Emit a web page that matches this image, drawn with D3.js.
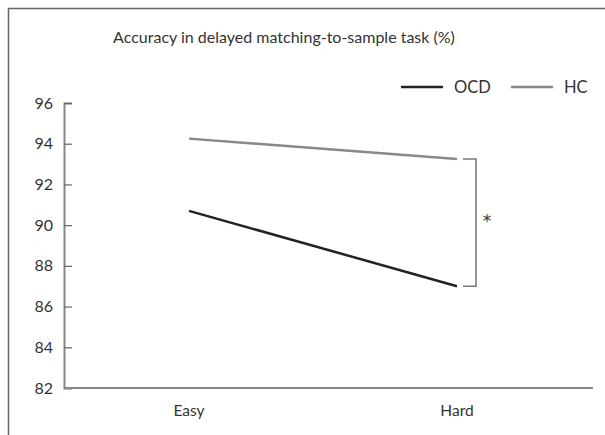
<!DOCTYPE html>
<html>
<head>
<meta charset="utf-8">
<script src="https://cdn.jsdelivr.net/npm/d3@7"></script>
<style>
  body { margin: 0; background: #fff; }
  svg { font-family: "Lato", "Open Sans", sans-serif; }
</style>
</head>
<body>
<svg width="605" height="435"></svg>
<script>
// chart data
const conditions = ["Easy", "Hard"];
const ocdValues = [90.7, 87.0];
const hcValues = [94.25, 93.25];
const yTicks = [82, 84, 86, 88, 90, 92, 94, 96];

const svg = d3.select("svg");

// outer frame: only top and left edges show
svg.append("path")
   .attr("d", "M8.5,440V8.5H610")
   .attr("fill", "none")
   .attr("stroke", "#666")
   .attr("stroke-width", 1.5);

const x = d3.scalePoint().domain(conditions).range([189, 457]);
const y = d3.scaleLinear().domain([82, 96]).range([388, 103]);

// title
svg.append("text")
   .attr("x", 284).attr("y", 43)
   .attr("text-anchor", "middle")
   .attr("font-size", 16)
   .attr("fill", "#333")
   .text("Accuracy in delayed matching-to-sample task (%)");

// y axis with inner ticks
const yAxis = svg.append("g")
   .attr("transform", "translate(64,0)")
   .call(d3.axisRight(y).tickValues(yTicks).tickSize(8).tickFormat(""));
yAxis.select(".domain").attr("stroke", "#888").attr("stroke-width", 2);
yAxis.selectAll(".tick line").attr("stroke", "#666").attr("stroke-width", 1.2);

svg.selectAll(".ylab")
   .data(yTicks)
   .enter()
   .append("text")
   .attr("class", "ylab")
   .attr("x", 53)
   .attr("y", d => y(d))
   .attr("dy", "0.35em")
   .attr("text-anchor", "end")
   .attr("font-size", 16)
   .attr("fill", "#333")
   .text(d => d);

// x axis line
svg.append("line")
   .attr("x1", 64).attr("x2", 593)
   .attr("y1", y(82)).attr("y2", y(82))
   .attr("stroke", "#888").attr("stroke-width", 2);

svg.selectAll(".xlab")
   .data(conditions)
   .enter()
   .append("text")
   .attr("class", "xlab")
   .attr("x", d => x(d))
   .attr("y", 416)
   .attr("text-anchor", "middle")
   .attr("font-size", 15.5)
   .attr("fill", "#333")
   .text(d => d);

// series lines
const line = d3.line()
   .x((d, i) => x(conditions[i]))
   .y(d => y(d));

svg.append("path")
   .attr("d", line(hcValues))
   .attr("fill", "none")
   .attr("stroke", "#888")
   .attr("stroke-width", 2.5);

svg.append("path")
   .attr("d", line(ocdValues))
   .attr("fill", "none")
   .attr("stroke", "#222")
   .attr("stroke-width", 2.5);

// significance bracket between the Hard points
const bx = x("Hard");
const bTop = y(hcValues[1]);
const bBot = y(ocdValues[1]);
svg.append("path")
   .attr("d", `M${bx + 6},${bTop}H${bx + 19}V${bBot}H${bx + 6}`)
   .attr("fill", "none")
   .attr("stroke", "#777")
   .attr("stroke-width", 1.5);

svg.append("text")
   .attr("x", bx + 30)
   .attr("y", (bTop + bBot) / 2 + 4)
   .attr("text-anchor", "middle")
   .attr("font-family", "DejaVu Sans")
   .attr("font-size", 17)
   .attr("fill", "#333")
   .text("*");

// legend
const legend = [
  { name: "OCD", color: "#222", x: 401 },
  { name: "HC", color: "#888", x: 511 }
];
const lg = svg.selectAll(".legend")
   .data(legend)
   .enter()
   .append("g")
   .attr("transform", d => `translate(${d.x},87)`);
lg.append("line")
   .attr("x1", 0).attr("x2", 42)
   .attr("stroke", d => d.color)
   .attr("stroke-width", 2.5);
lg.append("text")
   .attr("x", 53)
   .attr("dy", "0.35em")
   .attr("font-size", 16.5)
   .attr("fill", "#333")
   .text(d => d.name);
</script>
</body>
</html>
